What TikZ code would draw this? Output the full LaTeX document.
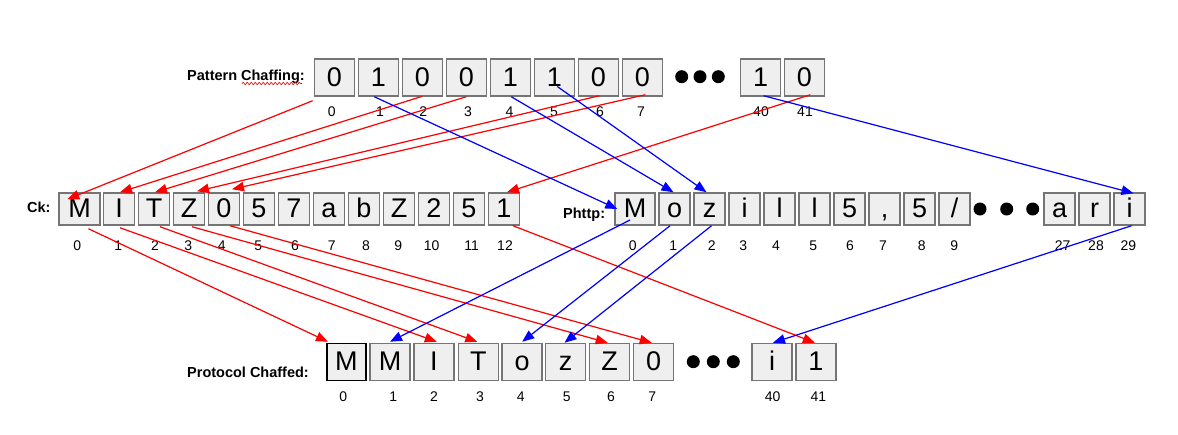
\documentclass[tikz,border=0pt]{standalone}
\usepackage{fontspec}
\setmainfont{Liberation Sans}
\usetikzlibrary{arrows.meta,decorations.pathmorphing}
\definecolor{boxfill}{HTML}{EFEFEF}
\definecolor{boxline}{HTML}{757575}
\definecolor{ared}{HTML}{FF0000}
\definecolor{ablue}{HTML}{0000FF}
\begin{document}
\begin{tikzpicture}[x=1pt,y=-1pt,
  cell/.style={draw=boxline,fill=boxfill,line width=1.5pt,inner sep=0pt,
    minimum height=37pt,minimum width=40pt,
    font=\fontsize{27}{31}\selectfont,text height=17.5pt,text depth=0pt},
  mcell/.style={cell,minimum height=32pt,minimum width=31pt},
  idx/.style={anchor=base,inner sep=0pt,font=\fontsize{14}{16}\selectfont},
  title/.style={anchor=base west,inner sep=0pt,font=\fontsize{14.5}{17}\selectfont\bfseries},
  dot/.style={circle,fill=black,inner sep=0pt,minimum size=13pt},
  redarrow/.style={draw=ared,line width=1.2pt,-{Triangle[length=12pt,width=9.5pt]},fill=ared},
  bluearrow/.style={draw=ablue,line width=1.2pt,-{Triangle[length=12pt,width=9.5pt]},fill=ablue}
]
\fill[white] (0,0) rectangle (1178,434);
\useasboundingbox (0,0) rectangle (1178,434);

% titles
\node[title] (ptitle) at (187,80) {Pattern Chaffing:};
\draw[ared,line width=0.7pt,decorate,decoration={snake,segment length=4pt,amplitude=1.2pt}] (242,83.5) -- (302,83.5);
\node[title] (cktitle) at (27,212) {Ck:};
\node[title] (phtitle) at (563,218) {Phttp:};
\node[title] (prtitle) at (187,377) {Protocol Chaffed:};

% top row
\foreach \x/\t/\n in {334.3/0/t0,378.3/1/t1,422.3/0/t2,466.3/0/t3,510.3/1/t4,554.3/1/t5,598.3/0/t6,642.3/0/t7,760.7/1/t40,804.3/0/t41}
  \node[cell] (\n) at (\x,77.5) {\t};
\foreach \x [count=\i] in {681.7,700,718.3}
  \node[dot] (td\i) at (\x,76.7) {};
\foreach \x/\l [count=\i] in {331.7/0,380/1,423.3/2,468/3,509.5/4,554/5,600/6,641/7,761/40,805/41}
  \node[idx] (lt\i) at (\x,116.7) {\l};

% Ck row
\node[mcell,minimum width=41pt] (c0) at (79.5,209) {M};
\foreach \x/\t/\n in {119/I/c1,154/T/c2,189/Z/c3,224/0/c4,259/5/c5,294/7/c6,329/a/c7,364/b/c8,399/Z/c9,434/2/c10,469/5/c11,504/1/c12}
  \node[mcell] (\n) at (\x,209) {\t};
\foreach \x/\l [count=\i] in {77.3/0,118.3/1,155/2,188.3/3,221.7/4,258.3/5,295/6,331.7/7,366/8,398.3/9,431.7/10,471.7/11,505/12}
  \node[idx] (lc\i) at (\x,250) {\l};

% Phttp row
\node[mcell,minimum width=40pt] (p0) at (635,209) {M};
\node[mcell] (p1) at (674.5,209) {o};
\node[mcell] (p2) at (709.5,209) {z};
\node[mcell] (p3) at (744.5,209) {i};
\node[mcell] (p4) at (779.5,209) {l};
\node[mcell] (p5) at (814.5,209) {l};
\node[mcell] (p6) at (849.5,209) {5};
\node[mcell] (p7) at (884.5,209) {,};
\node[mcell] (p8) at (919.5,209) {5};
\node[mcell] (p9) at (954.5,209) {/};
\foreach \x [count=\i] in {980,1006.7,1032.7}
  \node[dot] (pd\i) at (\x,209) {};
\node[mcell] (p27) at (1059.5,209) {a};
\node[mcell] (p28) at (1094.5,209) {r};
\node[mcell] (p29) at (1129.5,209) {i};
\foreach \x/\l [count=\i] in {632.7/0,673.3/1,711.7/2,743.3/3,776/4,813.3/5,850/6,883/7,921.7/8,954.3/9,1062.7/27,1096/28,1128.3/29}
  \node[idx] (lp\i) at (\x,250) {\l};

% bottom row
\node[cell,draw=black,minimum width=39.3pt] (o0) at (346.4,362) {M};
\foreach \x/\t/\n in {390/M/o1,433.8/I/o2,478.3/T/o3,522.2/o/o4,565.5/z/o5,609.7/Z/o6,653.7/0/o7,772/i/o40,815.9/1/o41}
  \node[cell] (\n) at (\x,362) {\t};
\foreach \x [count=\i] in {693.3,713.3,733.3}
  \node[dot] (od\i) at (\x,361.7) {};
\foreach \x/\l [count=\i] in {343.3/0,393.3/1,434/2,480/3,520.7/4,566.7/5,611/6,652.3/7,772.7/40,818.3/41}
  \node[idx] (lo\i) at (\x,401.7) {\l};

% pattern -> Ck (red)
\draw[redarrow] ([xshift=-1pt,yshift=-4pt]t0.south west) -- ([xshift=9pt,yshift=-7pt]c0.north west);
\draw[redarrow] ([yshift=0.5pt]t2.south) -- ([xshift=1pt]c1.north);
\draw[redarrow] (t3.south) -- ([xshift=1pt]c2.north);
\draw[redarrow] ([xshift=1pt,yshift=1pt]t6.south) -- ([xshift=8pt,yshift=1pt]c3.north);
\draw[redarrow] ([xshift=3pt,yshift=2pt]t7.south) -- ([xshift=8pt,yshift=3pt]c4.north);
\draw[redarrow] ([xshift=6pt,yshift=2pt]t41.south) -- ([xshift=3pt]c12.north);

% pattern -> Phttp (blue)
\draw[bluearrow] ([xshift=-4pt]t1.south) -- ([xshift=3pt]p0.west);
\draw[bluearrow] ([xshift=1pt]t4.south) -- ([xshift=-1pt]p1.north);
\draw[bluearrow] ([xshift=3pt,yshift=-9pt]t5.center) -- ([xshift=-3pt]p2.north);
\draw[bluearrow] ([xshift=3pt,yshift=1pt]t40.south) -- ([xshift=4pt,yshift=-1pt]p29.north);

% Ck -> protocol (red)
\draw[redarrow] ([xshift=9pt,yshift=-3pt]c0.south) -- ([xshift=2pt,yshift=1pt]o0.north west);
\draw[redarrow] ([xshift=1pt,yshift=-2pt]c1.south) -- ([xshift=3pt,yshift=1pt]o2.north);
\draw[redarrow] ([xshift=6pt,yshift=-1pt]c2.south) -- ([xshift=-1pt,yshift=1pt]o3.north);
\draw[redarrow] ([xshift=3pt,yshift=-1pt]c3.south) -- ([xshift=-2pt]o6.north);
\draw[redarrow] ([xshift=6pt]c4.south) -- ([xshift=-2pt]o7.north);
\draw[redarrow] ([xshift=9pt]c12.south) -- ([xshift=-1pt]o41.north);

% Phttp -> protocol (blue)
\draw[bluearrow] ([xshift=-5pt,yshift=-11pt]p0.center) -- ([yshift=1pt]o1.north);
\draw[bluearrow] ([xshift=-4.5pt]p1.south) -- ([yshift=1pt]o4.north);
\draw[bluearrow] ([xshift=2pt]p2.south) -- ([xshift=-1pt]o5.north);
\draw[bluearrow] ([xshift=2pt]p29.south) -- ([xshift=1pt]o40.north);
\end{tikzpicture}
\end{document}
